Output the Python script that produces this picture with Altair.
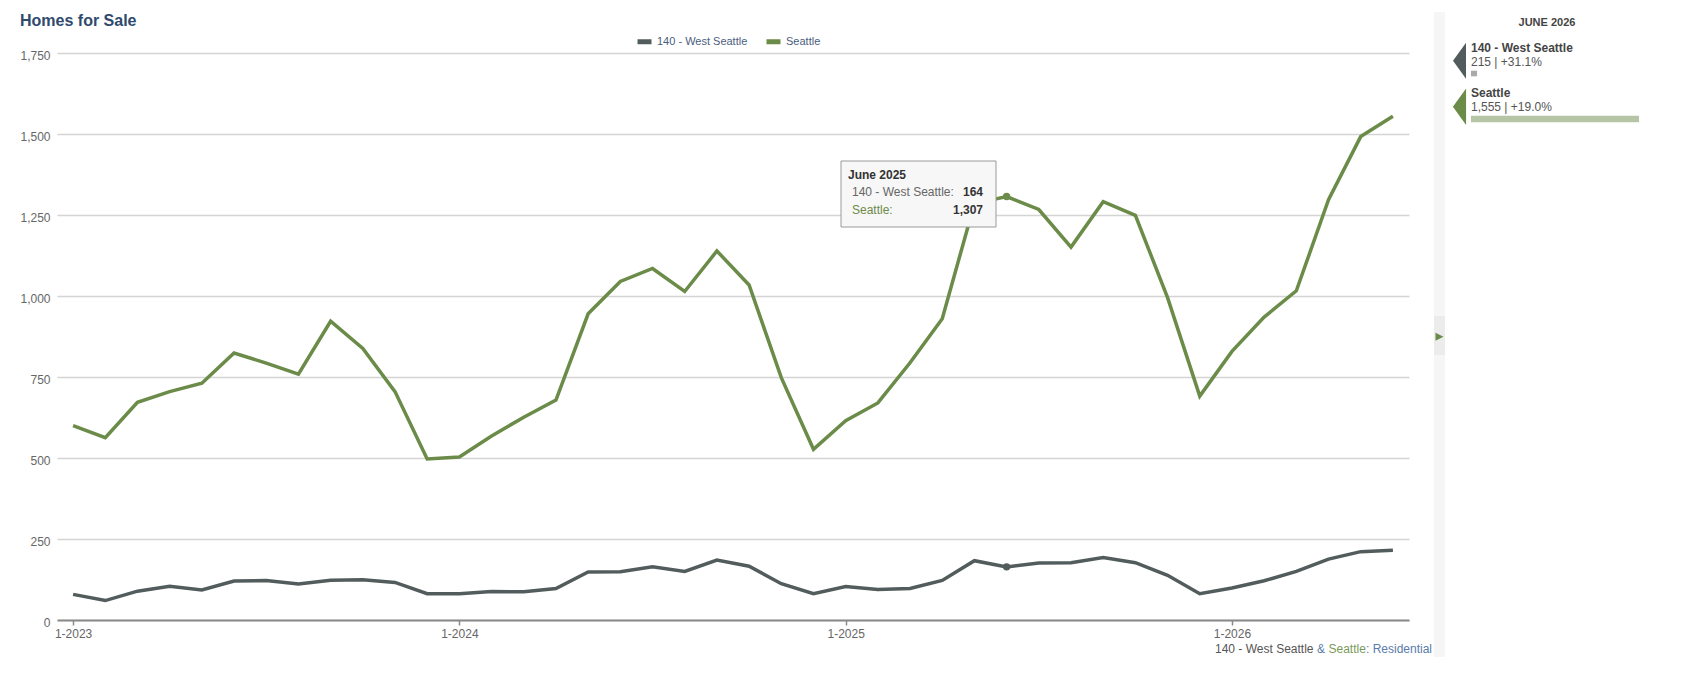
import altair as alt
import pandas as pd

FONT = "Liberation Sans"

# ---------------- data ----------------
months = [f"{y}-{m:02d}" for y in range(2023, 2027) for m in range(1, 13)][:42]
month_names = ["January", "February", "March", "April", "May", "June", "July",
               "August", "September", "October", "November", "December"]
series_names = ["140 - West Seattle", "Seattle"]
series_colors = ["#535c5c", "#6b8b49"]

west_seattle = [79, 60, 89, 104, 93, 120, 122, 111, 123, 124, 116, 81,
                81, 88, 87, 97, 148, 149, 164, 150, 185, 166, 112, 81,
                103, 94, 97, 122, 183, 164, 176, 177, 193, 177, 138, 81,
                99, 121, 150, 188, 211, 215]
seattle = [600, 563, 672, 705, 731, 824, 793, 759, 922, 838, 705, 497,
           503, 568, 626, 679, 945, 1045, 1085, 1014, 1139, 1034, 748, 527,
           615, 670, 794, 930, 1285, 1307, 1267, 1151, 1291, 1249, 995, 691,
           829, 935, 1016, 1297, 1492, 1555]

hover_index = 29            # June 2025 (tooltip)
y_ticks = [0, 250, 500, 750, 1000, 1250, 1500, 1750]
x_tick_index = [0, 12, 24, 36]
panel_bar = [0.036, 1.0]    # relative bar lengths in the side panel
note_parts = [("140 - West Seattle", "#555555"), ("&", "#5b7bab"),
              ("Seattle", "#7a9a58"), (": Residential", "#5b7bab")]

rows = []
for i, m in enumerate(months):
    rows.append({"i": i, "month": m, "series": series_names[0], "value": west_seattle[i]})
    rows.append({"i": i, "month": m, "series": series_names[1], "value": seattle[i]})
df = pd.DataFrame(rows)

# ---------------- layout helpers ----------------
W, H = 1352, 567
PAD_L, PAD_T = 49, 45
PAD_R = 1682 - PAD_L - W
PAD_B = 60


def px(x):  # page x -> chart x
    return x - 8 - PAD_L


def py(y):  # page y -> chart y
    return y - 8 - PAD_T


def one():
    return pd.DataFrame({"k": [0]})


def text_layer(txt, x, y, size=12, color="#444444", weight="normal", align="left",
               baseline="middle"):
    return alt.Chart(pd.DataFrame({"t": [txt]})).mark_text(
        align=align, baseline=baseline, fontSize=size, fontWeight=weight,
        color=color, font=FONT
    ).encode(x=alt.value(x), y=alt.value(y), text="t:N")


def rect_layer(x1, x2, y1, y2, fill, stroke=None, sw=0):
    kw = dict(fill=fill, strokeWidth=sw)
    if stroke:
        kw["stroke"] = stroke
    return alt.Chart(one()).mark_rect(**kw).encode(
        x=alt.value(x1), x2=alt.value(x2), y=alt.value(y1), y2=alt.value(y2))


# ---------------- main chart ----------------
xs = alt.Scale(domain=[-0.5, 41.5], nice=False, zero=False)
ys = alt.Scale(domain=[0, 1750], nice=False)
cs = alt.Scale(domain=series_names, range=series_colors)

x_enc = alt.X("i:Q", scale=xs, axis=alt.Axis(
    values=x_tick_index, labelExpr="'1-' + (2023 + floor(datum.value / 12))",
    title=None, grid=False, domainColor="#8a8a8a", domainWidth=2,
    tickColor="#8a8a8a", tickSize=5, tickWidth=1.5, labelColor="#666666",
    labelFontSize=12, labelFont=FONT, labelPadding=3))
y_enc = alt.Y("value:Q", scale=ys, axis=alt.Axis(
    values=y_ticks, format=",.0f", title=None, domain=False, ticks=False,
    gridColor="#d4d4d4", gridWidth=1.5, labelColor="#666666", labelFontSize=12,
    labelFont=FONT, labelPadding=7, labelOffset=2))

lines = alt.Chart(df).mark_line(strokeWidth=3.5).encode(
    x=x_enc, y=y_enc,
    color=alt.Color("series:N", scale=cs, legend=alt.Legend(
        title=None, orient="none", legendX=578, legendY=-21, direction="horizontal",
        symbolType="stroke", symbolStrokeWidth=5, symbolSize=196,
        labelFontSize=11, labelFont=FONT, labelColor="#4a5d7e",
        columnPadding=8, labelOffset=3, padding=0)),
)

tooltip_box = rect_layer(px(841), px(996), py(161), py(227), "#f7f7f7", "#9a9a9a", 1)

points = alt.Chart(df).transform_filter(alt.datum.i == hover_index).mark_circle(
    size=55, opacity=1).encode(
    x=alt.X("i:Q", scale=xs), y=alt.Y("value:Q", scale=ys),
    color=alt.Color("series:N", scale=cs, legend=None))

hy, hm = months[hover_index].split("-")
tip_title = f"{month_names[int(hm) - 1]} {hy}"
tip = [
    text_layer(tip_title, px(848), py(174.5), 12, "#333333", "bold"),
    text_layer(series_names[0] + ":", px(852), py(192), 12, "#666666"),
    text_layer(f"{west_seattle[hover_index]:,}", px(983), py(192), 12, "#333333", "bold", "right"),
    text_layer(series_names[1] + ":", px(852), py(210), 12, "#6b8b49"),
    text_layer(f"{seattle[hover_index]:,}", px(983), py(210), 12, "#333333", "bold", "right"),
]

main = alt.layer(lines, tooltip_box, points, *tip).resolve_scale(
    x="shared", y="shared", color="shared")

# ---------------- side panel ----------------
bar_scale = alt.Scale(domain=[0, 1], range=[px(1471), px(1639)], nice=False, zero=False)
bars_df = pd.DataFrame({"series": series_names, "start": [0, 0], "len": panel_bar})
bar_ws = alt.Chart(bars_df).transform_filter(alt.datum.series == series_names[0]).mark_rect(
    fill="#a9abab").encode(
    x=alt.X("start:Q", scale=bar_scale, axis=None), x2="len:Q",
    y=alt.value(py(70.7)), y2=alt.value(py(76.3)))
bar_s = alt.Chart(bars_df).transform_filter(alt.datum.series == series_names[1]).mark_rect(
    fill="#b6c5a6").encode(
    x=alt.X("start:Q", scale=bar_scale, axis=None), x2="len:Q",
    y=alt.value(py(115.7)), y2=alt.value(py(122.3)))
panel_bars = alt.layer(bar_ws, bar_s).resolve_scale(x="shared")

tri_path = "M0.36,-1L0.36,1L-0.36,0Z"
tri_ws = alt.Chart(one()).mark_point(shape=tri_path, filled=True, size=1296, opacity=1,
                                     color=series_colors[0]).encode(
    x=alt.value(px(1459.5)), y=alt.value(py(60.7)))
tri_s = alt.Chart(one()).mark_point(shape=tri_path, filled=True, size=1340, opacity=1,
                                    color=series_colors[1]).encode(
    x=alt.value(px(1459.5)), y=alt.value(py(106.7)))

strip = rect_layer(px(1434), px(1445), py(12), py(657), "#f6f6f6")
handle = rect_layer(px(1434), px(1445), py(316), py(355), "#ececec")
handle_tri = alt.Chart(one()).mark_point(shape="M-1,-1L1,0L-1,1Z", filled=True, size=64,
                                         opacity=1, color="#6b8b49").encode(
    x=alt.value(px(1439.5)), y=alt.value(py(336.7)))

ly, lm = months[-1].split("-")
pct_ws = (west_seattle[-1] / west_seattle[-13] - 1) * 100
pct_s = (seattle[-1] / seattle[-13] - 1) * 100
panel_text = [
    text_layer(f"{month_names[int(lm) - 1].upper()} {ly}", px(1547), py(23.3), 11,
               "#444444", "bold", "center"),
    text_layer(series_names[0], px(1471), py(47.7), 12, "#444444", "bold"),
    text_layer(f"{west_seattle[-1]:,} | {pct_ws:+.1f}%", px(1471), py(61.7), 12, "#555555"),
    text_layer(series_names[1], px(1471), py(93.3), 12, "#444444", "bold"),
    text_layer(f"{seattle[-1]:,} | {pct_s:+.1f}%", px(1471), py(107.3), 12, "#555555"),
]

# ---------------- title & note ----------------
title = text_layer("Homes for Sale", px(20), py(21), 16, "#2f4a6d", "bold")
note_x = [1215, 1317, 1328.5, 1366]
note = [text_layer(t, px(x), py(649), 12, c) for (t, c), x in zip(note_parts, note_x)]

chart = alt.layer(
    strip, handle, handle_tri,
    main, panel_bars,
    tri_ws, tri_s, *panel_text, title, *note
).resolve_scale(x="independent", y="independent").properties(
    width=W, height=H,
    autosize=alt.AutoSizeParams(type="none"),
    padding={"left": PAD_L, "top": PAD_T, "right": PAD_R, "bottom": PAD_B},
    background="white",
).configure(font=FONT).configure_view(strokeWidth=0, stroke="transparent")

chart.save("out.html", embed_options={"renderer": "svg", "actions": False})
